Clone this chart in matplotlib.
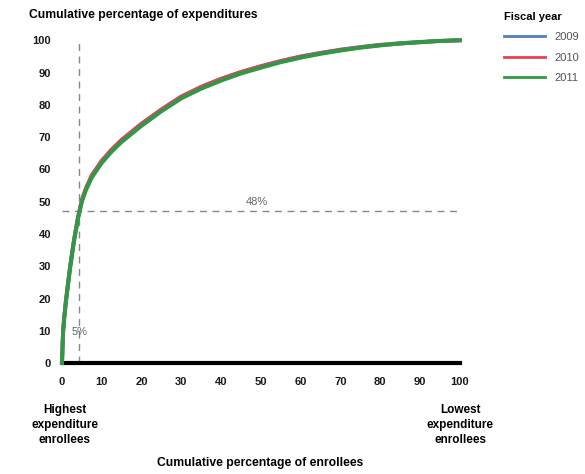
import numpy as np
import matplotlib.pyplot as plt

plt.rcParams['font.family'] = ['Liberation Sans', 'DejaVu Sans']

# cumulative % of enrollees (sorted from highest to lowest spending)
pct_enrollees = [0, 0.25, 0.5, 1, 1.5, 2, 3, 4, 5, 6, 7.5, 10, 12.5, 15, 20,
                 25, 30, 35, 40, 45, 50, 55, 60, 65, 70, 75, 80, 85, 90, 95, 100]
# cumulative % of expenditures per fiscal year
exp_2009 = [0, 9.5, 13.6, 19.6, 24.6, 29.6, 38.1, 45.1, 50.6, 54.1, 58.2, 62.7,
            66.2, 69.2, 74.2, 78.6, 82.6, 85.6, 88.1, 90.2, 92.0, 93.6, 95.0,
            96.1, 97.1, 97.9, 98.6, 99.1, 99.5, 99.8, 100]
exp_2010 = [0, 9.4, 13.5, 19.5, 24.5, 29.5, 38.0, 45.0, 50.5, 54.0, 58.1, 62.6,
            66.1, 69.1, 74.1, 78.5, 82.5, 85.5, 88.0, 90.1, 91.9, 93.5, 94.9,
            96.0, 97.0, 97.8, 98.5, 99.0, 99.4, 99.8, 100]
exp_2011 = [0, 9, 13, 19, 24, 29, 37.5, 44.5, 50, 53.5, 57.5, 62, 65.5, 68.5,
            73.5, 78, 82, 85, 87.5, 89.7, 91.5, 93.2, 94.6, 95.8, 96.8, 97.7,
            98.4, 99.0, 99.4, 99.8, 100]
years = ['2009', '2010', '2011']
colors = ['#4f7fbf', '#e8414f', '#2e9a45']

ref_x = 4.3   # "5%" marker line
ref_y = 47    # "48%" marker line

fig = plt.figure(figsize=(5.85, 4.74), dpi=100)
ax = fig.add_axes([0.106, 0.234, 0.680, 0.681])

for vals, yr, c in zip([exp_2009, exp_2010, exp_2011], years, colors):
    ax.plot(pct_enrollees, vals, color=c, lw=2.8, label=yr, clip_on=False,
            zorder=3, solid_joinstyle='round')

ax.axvline(ref_x, color='#888888', lw=1, ls=(0, (5, 4)), zorder=2)
ax.axhline(ref_y, color='#888888', lw=1, ls=(0, (5, 4)), zorder=2)
ax.text(49, ref_y + 1.5, '48%', color='#666666', fontsize=8, ha='center', va='bottom')
ax.text(2.5, 9.5, '5%', color='#666666', fontsize=8, ha='left', va='center')

ax.set_xlim(0, 100)
ax.set_ylim(0, 100)
ax.set_xticks(np.arange(0, 101, 10))
ax.set_yticks(np.arange(0, 101, 10))
for s in ['top', 'right', 'left']:
    ax.spines[s].set_visible(False)
ax.spines['bottom'].set_linewidth(3)
ax.spines['bottom'].set_color('black')
ax.tick_params(axis='both', length=0, labelsize=8)
ax.tick_params(axis='y', pad=8)
ax.tick_params(axis='x', pad=10)
for lbl in ax.get_xticklabels() + ax.get_yticklabels():
    lbl.set_fontweight('bold')
    lbl.set_color('#1a1a1a')

fig.text(0.050, 0.968, 'Cumulative percentage of expenditures', fontsize=8.7,
         fontweight='bold', ha='left', va='center')
fig.text(0.445, 0.023, 'Cumulative percentage of enrollees', fontsize=8.7,
         fontweight='bold', ha='center', va='center')
fig.text(0.111, 0.103, 'Highest\nexpenditure\nenrollees', fontsize=8.5,
         fontweight='bold', ha='center', va='center', linespacing=1.35)
fig.text(0.787, 0.103, 'Lowest\nexpenditure\nenrollees', fontsize=8.5,
         fontweight='bold', ha='center', va='center', linespacing=1.35)

leg = ax.legend(loc='upper left', bbox_to_anchor=(1.085, 1.12), frameon=False,
                fontsize=8, title='Fiscal year', title_fontsize=8,
                handlelength=3.7, handletextpad=0.9, labelspacing=0.95,
                alignment='left')
leg.get_title().set_fontweight('bold')
for t in leg.get_texts():
    t.set_color('#555555')
for h in leg.legend_handles:
    h.set_linewidth(2)

fig.savefig('out.png', dpi=100)
